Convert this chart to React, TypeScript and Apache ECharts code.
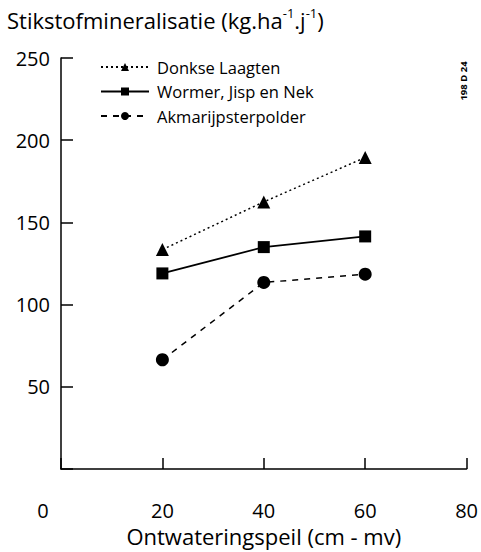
import React, { useEffect, useRef } from "react";
import * as echarts from "echarts";

const xValues = [20, 40, 60];
const donkse = [133.5, 162.5, 189.5];
const wormer = [119, 135, 141.5];
const akmarijp = [66.5, 113.5, 118.5];
const seriesNames = ["Donkse Laagten", "Wormer, Jisp en Nek", "Akmarijpsterpolder"];

const FONT = "'Open Sans', 'Noto Sans', sans-serif";

export default function App() {
  const ref = useRef<HTMLDivElement>(null);
  useEffect(() => {
    if (!ref.current) return;
    const chart = echarts.init(ref.current, null, { renderer: "svg" });
    const mk = (vals: number[]) => xValues.map((x, i) => [x, vals[i]]);
    chart.setOption({
      animation: false,
      backgroundColor: "#fff",
      textStyle: { fontFamily: FONT, color: "#000" },
      title: {
        left: 7,
        top: 6,
        padding: 0,
        text: "{a|Stikstofmineralisatie (kg.ha}{s|-1}{a|.j}{s|-1}{a|)}",
        textStyle: {
          fontWeight: "normal",
          rich: {
            a: { fontSize: 22, fontFamily: FONT, fontWeight: "normal", color: "#000", lineHeight: 28 },
            s: { fontSize: 13, fontFamily: FONT, fontWeight: "normal", color: "#000", verticalAlign: "top", lineHeight: 28 },
          },
        },
      },
      legend: {
        orient: "vertical",
        left: 100,
        top: 57,
        padding: 0,
        itemWidth: 48,
        itemHeight: 10,
        itemGap: 4.5,
        data: seriesNames,
        textStyle: { fontSize: 16.5, lineHeight: 20, fontFamily: FONT, color: "#000", padding: [0, 0, 0, 3] },
      },
      grid: { left: 61, right: 12, top: 58, bottom: 73, containLabel: false },
      xAxis: {
        type: "value",
        min: 0,
        max: 80,
        interval: 20,
        name: "Ontwateringspeil (cm - mv)",
        nameLocation: "middle",
        nameGap: 46,
        nameTextStyle: { fontSize: 22, fontFamily: FONT, color: "#000" },
        splitLine: { show: false },
        axisLine: { lineStyle: { color: "#000", width: 1.5 } },
        axisTick: { inside: true, length: 11, lineStyle: { color: "#000", width: 1.5 } },
        axisLabel: {
          fontSize: 20,
          color: "#000",
          fontFamily: FONT,
          margin: 31,
          formatter: (v: number) => (v === 0 ? "{z|0}" : String(v)),
          rich: { z: { fontSize: 20, fontFamily: FONT, color: "#000", padding: [0, 36, 0, 0] } },
        },
      },
      yAxis: {
        type: "value",
        min: 0,
        max: 250,
        interval: 50,
        splitLine: { show: false },
        axisLine: { lineStyle: { color: "#000", width: 1.5 } },
        axisTick: { inside: true, length: 12, lineStyle: { color: "#000", width: 1.5 } },
        axisLabel: {
          fontSize: 20,
          color: "#000",
          fontFamily: FONT,
          margin: 11,
          formatter: (v: number) => (v === 0 ? "" : String(v)),
        },
      },
      graphic: [
        {
          type: "text",
          x: 463,
          y: 81,
          rotation: Math.PI / 2,
          style: {
            text: "198 D 24",
            fontSize: 9.5,
            fontWeight: "bold",
            fill: "#000",
            fontFamily: FONT,
            align: "center",
            verticalAlign: "middle",
          },
        },
      ],
      series: [
        {
          name: seriesNames[0],
          type: "line",
          data: mk(donkse),
          symbol: "triangle",
          symbolSize: 13,
          color: "#000",
          lineStyle: { color: "#000", width: 1.5, type: [2, 3] },
          itemStyle: { color: "#000" },
        },
        {
          name: seriesNames[1],
          type: "line",
          data: mk(wormer),
          symbol: "rect",
          symbolSize: 12,
          color: "#000",
          lineStyle: { color: "#000", width: 1.8, type: "solid" },
          itemStyle: { color: "#000" },
        },
        {
          name: seriesNames[2],
          type: "line",
          data: mk(akmarijp),
          symbol: "circle",
          symbolSize: 13,
          color: "#000",
          lineStyle: { color: "#000", width: 1.5, type: [6, 6] },
          itemStyle: { color: "#000" },
        },
      ],
    });
    return () => chart.dispose();
  }, []);
  return (
    <div
      ref={ref}
      style={{ position: "absolute", left: 0, top: 0, width: 481, height: 552 }}
    />
  );
}
